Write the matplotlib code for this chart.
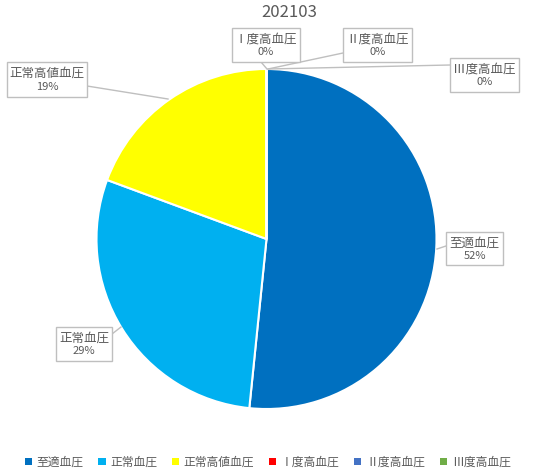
import matplotlib
matplotlib.use("Agg")
import matplotlib.pyplot as plt
from matplotlib.patches import Rectangle

plt.rcParams['font.family'] = ['Noto Sans CJK JP', 'DejaVu Sans']

title = "202103"
categories = ["至適血圧", "正常血圧", "正常高値血圧", "Ⅰ度高血圧", "Ⅱ度高血圧", "Ⅲ度高血圧"]
values = [16, 9, 6, 0, 0, 0]
colors = ["#0070C0", "#00B0F0", "#FFFF00", "#FF0000", "#4472C4", "#70AD47"]

W, H = 552, 476
fig = plt.figure(figsize=(W / 100, H / 100), dpi=100)
ax = fig.add_axes([0, 0, 1, 1])
ax.set_xlim(0, W)
ax.set_ylim(H, 0)
ax.set_aspect('equal')
ax.axis('off')

cx, cy, r = 266.5, 239, 170
# y axis is inverted: startangle=-90 points up on screen, counterclock renders clockwise
wedges, _ = ax.pie(values, colors=colors, startangle=-90, counterclock=True,
                   center=(cx, cy), radius=r, normalize=True,
                   wedgeprops=dict(edgecolor='white', linewidth=1.5))
ax.set_xlim(0, W)
ax.set_ylim(H, 0)

ax.text(289, 12.5, title, ha='center', va='center', fontsize=12, color='#595959')

total = sum(values)
def pct(v):
    return f"{int(v / total * 100 + 0.5)}%"

# label boxes: (x0, y0, x1, y1), leader line (from, to)
boxes = [
    ((446, 232, 503, 265), ((446, 246), (437, 249))),
    ((56, 327, 112, 361), ((112, 334), (121, 327))),
    ((7, 62, 87, 97), ((87, 86), (168, 99))),
    ((232, 28, 300, 62), ((261, 62), (267, 69))),
    ((343, 28, 412, 62), ((343, 53), (268, 69))),
    ((450, 58, 519, 92), ((450, 65), (268, 69))),
]
for (name, v, (box, (p0, p1))) in zip(categories, values, boxes):
    x0, y0, x1, y1 = box
    ax.plot([p0[0], p1[0]], [p0[1], p1[1]], color='#BFBFBF', lw=1.0, zorder=3)
    ax.add_patch(Rectangle((x0, y0), x1 - x0, y1 - y0, facecolor='white',
                           edgecolor='#BFBFBF', lw=1.0, zorder=4))
    mx = (x0 + x1) / 2
    ax.text(mx, y0 + (y1 - y0) * 0.33, name, ha='center', va='center',
            fontsize=9, color='#595959', zorder=5)
    ax.text(mx, y0 + (y1 - y0) * 0.72, pct(v), ha='center', va='center',
            fontsize=8, color='#595959', zorder=5)

leg = fig.legend(wedges, categories, loc='center', ncol=6,
                 bbox_to_anchor=(0.485, 1 - 462 / H), frameon=False,
                 fontsize=8.5, handlelength=0.6, handleheight=0.6,
                 handletextpad=0.4, columnspacing=1.25, borderaxespad=0)
for t in leg.get_texts():
    t.set_color('#595959')
for h in leg.legend_handles:
    h.set_edgecolor('none')

fig.savefig("out.png", dpi=100)
